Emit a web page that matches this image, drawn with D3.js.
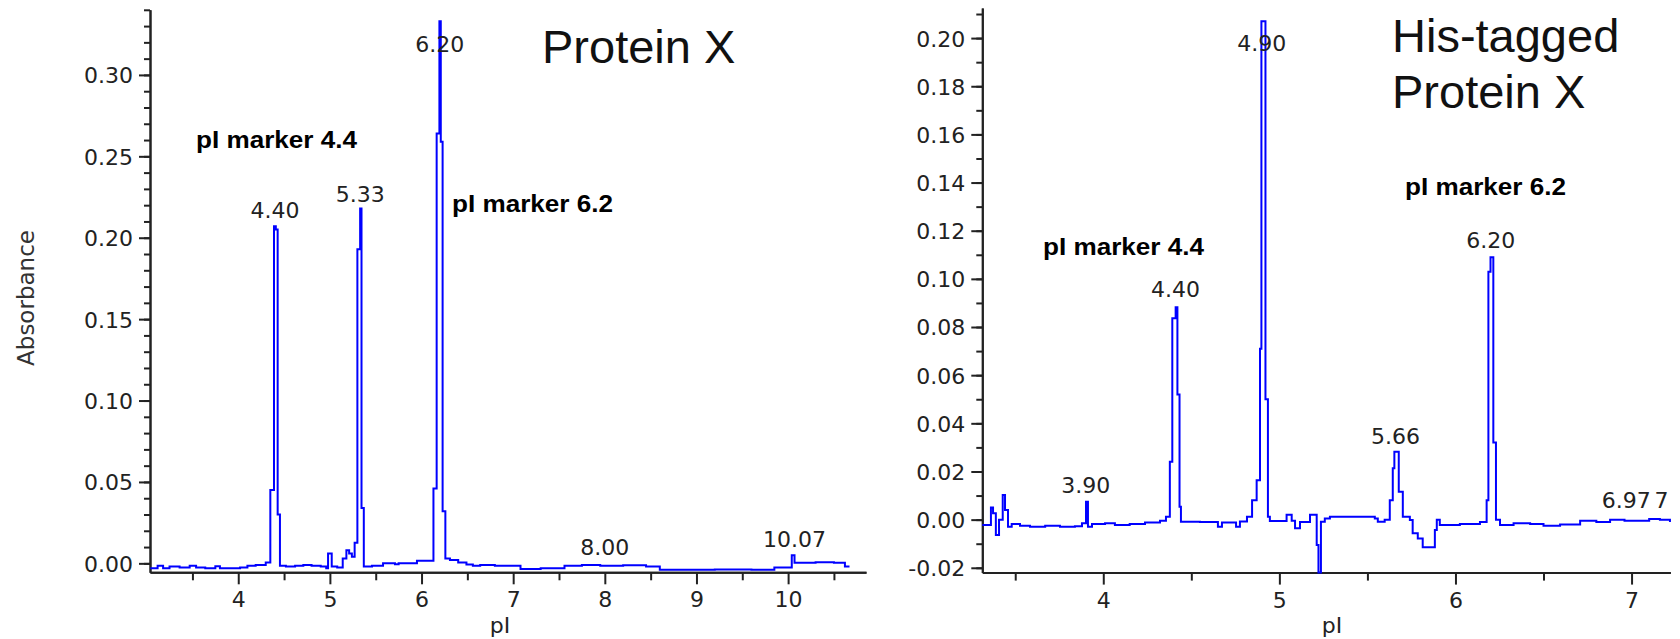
<!DOCTYPE html>
<html>
<head>
<meta charset="utf-8">
<script src="https://cdn.jsdelivr.net/npm/d3@7"></script>
<style>
  html, body { margin: 0; padding: 0; background: #fff; }
  svg { display: block; }
  .tick text, .lbl { font-family: "DejaVu Sans", sans-serif; font-size: 22px; fill: #222; }
  .ann { font-family: "Liberation Sans", Arial, sans-serif; font-weight: bold; font-size: 23px; fill: #000; }
  .title { font-family: "Liberation Sans", Arial, sans-serif; font-size: 47px; fill: #111; }
  .domain, .tick line { stroke: #222; stroke-width: 2px; }
  .trace { fill: none; stroke: #0000ff; stroke-width: 2px; }
</style>
</head>
<body>
<svg id="chart" width="1680" height="639"></svg>
<script>
// ---- Protein X electropherogram: [pI, absorbance] steps ----
const proteinX = [
  [3.04, -0.003], [3.12, -0.0015], [3.18, -0.003], [3.25, -0.002], [3.36, -0.0025],
  [3.47, -0.0015], [3.54, -0.0025], [3.64, -0.003], [3.75, -0.0018], [3.80, -0.003],
  [3.93, -0.003], [4.02, -0.0025], [4.10, -0.0015], [4.19, -0.001], [4.30, 0.0005],
  [4.35, 0.045], [4.39, 0.207], [4.41, 0.205], [4.43, 0.030], [4.455, -0.0015],
  [4.52, -0.002], [4.62, -0.0015], [4.71, -0.001], [4.80, -0.0015], [4.90, -0.002],
  [4.96, -0.003], [4.98, 0.006], [5.02, -0.002], [5.08, -0.0025], [5.14, 0.003],
  [5.18, 0.008], [5.21, 0.006], [5.24, 0.004], [5.27, 0.0127], [5.30, 0.193],
  [5.33, 0.218], [5.345, 0.034], [5.37, -0.002], [5.46, -0.0015], [5.58, 0.000],
  [5.71, -0.0005], [5.75, 0.000], [5.95, 0.0016], [6.13, 0.046], [6.165, 0.264],
  [6.195, 0.333], [6.21, 0.259], [6.23, 0.032], [6.26, 0.003], [6.31, 0.002],
  [6.40, 0.0005], [6.49, -0.0007], [6.56, -0.0015], [6.64, -0.001], [6.80, -0.0015],
  [7.08, -0.0035], [7.30, -0.003], [7.56, -0.0015], [7.75, -0.001], [7.95, -0.0015],
  [8.20, -0.0012], [8.45, -0.002], [8.60, -0.004], [9.20, -0.0038], [9.60, -0.004],
  [9.85, -0.0026], [10.04, 0.005], [10.07, 0.0004], [10.30, 0.0006], [10.50, 0.0004],
  [10.62, -0.002], [10.67, -0.002]
];

// ---- His-tagged Protein X electropherogram ----
const hisTagged = [
  [3.313, -0.0022], [3.362, 0.005], [3.374, 0.0026], [3.39, -0.0064], [3.408, 0.000],
  [3.429, 0.0102], [3.442, 0.004], [3.459, -0.003], [3.48, -0.0018], [3.527, -0.0025],
  [3.584, -0.003], [3.67, -0.0025], [3.754, -0.003], [3.839, -0.0028], [3.879, -0.0015],
  [3.902, 0.0074], [3.913, -0.003], [3.936, -0.0018], [4.01, -0.0015], [4.066, -0.0022],
  [4.15, -0.0018], [4.237, -0.0012], [4.322, -0.0005], [4.356, 0.0012], [4.378, 0.024],
  [4.392, 0.0836], [4.411, 0.0882], [4.421, 0.052], [4.433, 0.0054], [4.441, -0.0009],
  [4.549, -0.001], [4.651, -0.003], [4.674, -0.0012], [4.754, -0.003], [4.776, -0.0008],
  [4.816, 0.0012], [4.845, 0.008], [4.871, 0.0164], [4.89, 0.071], [4.898, 0.207],
  [4.921, 0.050], [4.935, 0.0012], [4.946, -0.0006], [5.041, 0.002], [5.07, -0.0005],
  [5.089, -0.0036], [5.117, -0.001], [5.174, 0.002], [5.212, -0.0105], [5.222, -0.022],
  [5.236, -0.0009], [5.258, 0.0005], [5.287, 0.0012], [5.542, 0.0005], [5.559, -0.0009],
  [5.598, 0.000], [5.627, 0.008], [5.644, 0.0213], [5.653, 0.0282], [5.678, 0.0116],
  [5.701, 0.0012], [5.741, -0.0002], [5.757, -0.0057], [5.786, -0.0078], [5.814, -0.0115],
  [5.883, -0.0043], [5.894, 0.000], [5.911, -0.0022], [6.025, -0.0018], [6.139, -0.001],
  [6.177, 0.008], [6.187, 0.103], [6.199, 0.109], [6.215, 0.032], [6.23, 0.000],
  [6.253, -0.0022], [6.33, -0.0015], [6.424, -0.0018], [6.50, -0.0025], [6.594, -0.002],
  [6.708, -0.0005], [6.80, -0.001], [6.878, 0.000], [6.96, -0.0005], [7.048, -0.0005],
  [7.10, 0.0003], [7.161, 0.000], [7.218, -0.001]
];

// ---- axis ticks and labels ----
const leftYTicks = [0, 0.05, 0.10, 0.15, 0.20, 0.25, 0.30];
const leftYLabels = ["0.00", "0.05", "0.10", "0.15", "0.20", "0.25", "0.30"];
const leftXTicks = [4, 5, 6, 7, 8, 9, 10];
const rightYTicks = [-0.02, 0, 0.02, 0.04, 0.06, 0.08, 0.10, 0.12, 0.14, 0.16, 0.18, 0.20];
const rightYLabels = ["-0.02", "0.00", "0.02", "0.04", "0.06", "0.08", "0.10", "0.12", "0.14", "0.16", "0.18", "0.20"];
const rightXTicks = [4, 5, 6, 7];

// ---- peak labels: [pI, absorbance of label baseline, text] ----
const leftPeakLabels = [
  [4.40, 0.212, "4.40"], [5.33, 0.222, "5.33"], [6.20, 0.3143, "6.20"],
  [8.00, 0.005, "8.00"], [10.07, 0.0103, "10.07"]
];
const rightPeakLabels = [
  [3.90, 0.0109, "3.90"], [4.41, 0.0923, "4.40"], [4.90, 0.1947, "4.90"],
  [5.66, 0.0316, "5.66"], [6.20, 0.1127, "6.20"], [6.97, 0.0047, "6.97"], [7.17, 0.0047, "7"]
];

const svg = d3.select("#chart");

function panel(cfg) {
  const x = d3.scaleLinear().domain(cfg.xDomain).range(cfg.xRange);
  const y = d3.scaleLinear().domain(cfg.yDomain).range(cfg.yRange);
  const g = svg.append("g");
  const x0 = cfg.xRange[0], yBase = cfg.yRange[0];

  // minor ticks
  g.append("g").attr("transform", `translate(${x0},0)`)
    .call(d3.axisLeft(y).tickValues(cfg.yMinor).tickSize(6).tickSizeOuter(0).tickFormat(""));
  g.append("g").attr("transform", `translate(0,${yBase})`)
    .call(d3.axisBottom(x).tickValues(cfg.xMinor).tickSize(8).tickSizeOuter(0).tickFormat(""));

  // major ticks with labels
  const ya = g.append("g").attr("transform", `translate(${x0},0)`)
    .call(d3.axisLeft(y).tickValues(cfg.yTicks).tickSize(11).tickSizeOuter(0).tickPadding(6)
      .tickFormat((d, i) => cfg.yLabels[i]));
  const xa = g.append("g").attr("transform", `translate(0,${yBase})`)
    .call(d3.axisBottom(x).tickValues(cfg.xTicks).tickSize(12).tickSizeOuter(0).tickPadding(6)
      .tickFormat(d3.format("d")));
  ya.selectAll(".tick text").attr("dy", "0.36em");
  xa.selectAll(".tick text").attr("dy", "0.78em");

  // trace
  g.append("path").datum(cfg.data).attr("class", "trace")
    .attr("d", d3.line().x(d => x(d[0])).y(d => y(d[1])).curve(d3.curveStepAfter));

  // peak labels
  g.selectAll("text.peak").data(cfg.peaks).join("text")
    .attr("class", "lbl peak").attr("text-anchor", "middle")
    .attr("x", d => x(d[0])).attr("y", d => y(d[1])).text(d => d[2]);

  // x-axis title
  g.append("text").attr("class", "lbl").attr("text-anchor", "middle")
    .attr("x", cfg.xTitleX).attr("y", 633).text("pI");

  // marker annotations
  cfg.markers.forEach(m => {
    g.append("text").attr("class", "ann").attr("x", m[0]).attr("y", m[1])
      .attr("textLength", 161).attr("lengthAdjust", "spacingAndGlyphs").text(m[2]);
  });
  return g;
}

panel({
  xDomain: [3.037, 10.85], xRange: [150, 866],
  yDomain: [-0.0055, 0.34], yRange: [572.3, 9.8],
  yTicks: leftYTicks, yLabels: leftYLabels, xTicks: leftXTicks,
  yMinor: d3.range(0, 35).map(i => i / 100),
  xMinor: [3.5, 4.5, 5.5, 6.5, 7.5, 8.5, 9.5, 10.5],
  data: proteinX, peaks: leftPeakLabels, xTitleX: 500,
  markers: [[196, 148, "pI marker 4.4"], [452, 212, "pI marker 6.2"]]
});

panel({
  xDomain: [3.313, 7.22], xRange: [982.3, 1670.3],
  yDomain: [-0.022, 0.2125], yRange: [572.6, 8.0],
  yTicks: rightYTicks, yLabels: rightYLabels, xTicks: rightXTicks,
  yMinor: d3.range(-2, 22).map(i => i / 100),
  xMinor: [3.5, 4.5, 5.5, 6.5],
  data: hisTagged, peaks: rightPeakLabels, xTitleX: 1332,
  markers: [[1043, 255, "pI marker 4.4"], [1405, 195, "pI marker 6.2"]]
});

// y-axis title
svg.append("text").attr("class", "lbl")
  .attr("transform", "translate(34,298) rotate(-90)")
  .attr("text-anchor", "middle").style("font-size", "23px").style("fill", "#333")
  .text("Absorbance");

// panel titles
svg.append("text").attr("class", "title").attr("x", 542).attr("y", 63).text("Protein X");
svg.append("text").attr("class", "title").attr("x", 1392).attr("y", 52).text("His-tagged");
svg.append("text").attr("class", "title").attr("x", 1392).attr("y", 108).text("Protein X");
</script>
</body>
</html>
